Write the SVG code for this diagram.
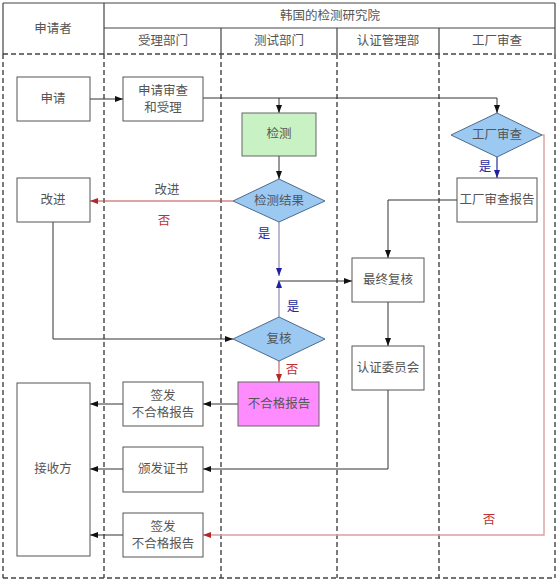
<svg xmlns="http://www.w3.org/2000/svg" width="560" height="583" viewBox="0 0 560 583">
<style>
text{font-family:"Liberation Serif","Noto Sans CJK SC",serif;font-size:12.5px;fill:#555;text-anchor:middle;dominant-baseline:central}
.box{fill:#fff;stroke:#555;stroke-width:1}
.dia{fill:#9cc9f2;stroke:#4d6b8c;stroke-width:1}
.hdr{stroke:#444;stroke-width:1.2;fill:none}
.dash{stroke:#444;stroke-width:1.4;stroke-dasharray:5 3;fill:none}
.ln{stroke:#333;stroke-width:1;fill:none}
.blue{stroke:#8a8ab8;stroke-width:1.2;fill:none}
.red{stroke:#c04848;stroke-width:1;fill:none}
.lred{stroke:#d9a0a0;stroke-width:1.4;fill:none}
.yes{fill:#2a2aa0}
.no{fill:#c03030}
</style>
<defs>
<marker id="ab" viewBox="0 0 8 6" refX="8" refY="3" markerWidth="8" markerHeight="6" orient="auto" markerUnits="userSpaceOnUse"><path d="M0,0 L8,3 L0,6 z" fill="#111"/></marker>
<marker id="abl" viewBox="0 0 8 6" refX="8" refY="3" markerWidth="8" markerHeight="6" orient="auto" markerUnits="userSpaceOnUse"><path d="M0,0 L8,3 L0,6 z" fill="#2020a0"/></marker>
<marker id="ar" viewBox="0 0 8 6" refX="8" refY="3" markerWidth="8" markerHeight="6" orient="auto" markerUnits="userSpaceOnUse"><path d="M0,0 L8,3 L0,6 z" fill="#b02828"/></marker>
</defs>
<rect width="560" height="583" fill="#fff"/>
<g id="lanes">
<line class="hdr" x1="3" y1="3" x2="555" y2="3"/>
<line class="hdr" x1="104" y1="28" x2="555" y2="28"/>
<line class="hdr" x1="104" y1="3" x2="104" y2="54"/>
<line class="hdr" x1="221" y1="28" x2="221" y2="54"/>
<line class="hdr" x1="337" y1="28" x2="337" y2="54"/>
<line class="hdr" x1="439" y1="28" x2="439" y2="54"/>
<line class="hdr" x1="3" y1="3" x2="3" y2="54"/>
<line class="hdr" x1="555" y1="3" x2="555" y2="54"/>
<line class="dash" x1="3" y1="54" x2="555" y2="54"/>
<line class="dash" x1="3" y1="54" x2="3" y2="578"/>
<line class="dash" x1="555" y1="54" x2="555" y2="578"/>
<line class="dash" x1="3" y1="578" x2="555" y2="578"/>
<line class="dash" x1="104" y1="54" x2="104" y2="578"/>
<line class="dash" x1="221" y1="54" x2="221" y2="578"/>
<line class="dash" x1="337" y1="54" x2="337" y2="578"/>
<line class="dash" x1="439" y1="54" x2="439" y2="578"/>
<text x="53" y="29">申请者</text>
<text x="330" y="16">韩国的检测研究院</text>
<text x="163" y="41">受理部门</text>
<text x="279" y="41">测试部门</text>
<text x="388" y="41">认证管理部</text>
<text x="497" y="41">工厂审查</text>
</g>
<g id="connectors">
<line class="ln" x1="90" y1="99" x2="123" y2="99" marker-end="url(#ab)"/>
<polyline class="ln" points="203,98 497,98 497,113" marker-end="url(#ab)"/>
<line class="ln" x1="279" y1="98" x2="279" y2="113" marker-end="url(#ab)"/>
<line class="ln" x1="279" y1="156" x2="279" y2="179" marker-end="url(#ab)"/>
<line class="red" x1="233" y1="201" x2="90" y2="201" marker-end="url(#ar)"/>
<line class="blue" x1="279" y1="222" x2="279" y2="276" marker-end="url(#abl)"/>
<line class="blue" x1="279" y1="317" x2="279" y2="280" marker-end="url(#abl)"/>
<line class="ln" x1="280" y1="281" x2="352" y2="281" marker-end="url(#ab)"/>
<line x1="497" y1="157" x2="497" y2="178" style="stroke:#2a2aa0;stroke-width:1.2" marker-end="url(#abl)"/>
<polyline class="ln" points="457,200 388,200 388,258" marker-end="url(#ab)"/>
<line class="ln" x1="388" y1="302" x2="388" y2="346" marker-end="url(#ab)"/>
<polyline class="ln" points="53,222 53,339 233,339" marker-end="url(#ab)"/>
<line class="red" x1="279" y1="361" x2="279" y2="382" marker-end="url(#ar)"/>
<line class="ln" x1="238" y1="404" x2="203" y2="404" marker-end="url(#ab)"/>
<line class="ln" x1="123" y1="404" x2="90" y2="404" marker-end="url(#ab)"/>
<polyline class="ln" points="388,390 388,469 203,469" marker-end="url(#ab)"/>
<line class="ln" x1="123" y1="469" x2="90" y2="469" marker-end="url(#ab)"/>
<line class="ln" x1="123" y1="535" x2="90" y2="535" marker-end="url(#ab)"/>
<polyline class="lred" points="542,135 544,135 544,535 203,535" marker-end="url(#ar)"/>
<text x="167" y="190">改进</text>
<text class="no" x="164" y="221">否</text>
<text class="yes" x="264" y="234">是</text>
<text class="yes" x="293" y="307">是</text>
<text class="yes" x="485" y="167">是</text>
<text class="no" x="292" y="370">否</text>
<text class="no" x="489" y="520">否</text>
</g>
<g id="n-apply"><rect class="box" x="17" y="77" width="73" height="44"/><text x="53" y="99">申请</text></g>
<g id="n-review"><rect class="box" x="123" y="77" width="80" height="44"/><text x="163" y="91">申请审查</text><text x="163" y="108">和受理</text></g>
<g id="n-test"><rect x="242" y="113" width="74" height="43" fill="#c8f2c4" stroke="#666"/><text x="279" y="134">检测</text></g>
<g id="n-factory"><polygon class="dia" points="497,113 542,135 497,157 451,135"/><text x="497" y="135">工厂审查</text></g>
<g id="n-result"><polygon class="dia" points="279,179 325,201 279,222 233,201"/><text x="279" y="201">检测结果</text></g>
<g id="n-improve"><rect class="box" x="17" y="178" width="73" height="44"/><text x="53" y="200">改进</text></g>
<g id="n-freport"><rect class="box" x="457" y="178" width="80" height="44"/><text x="497" y="200">工厂审查报告</text></g>
<g id="n-final"><rect class="box" x="352" y="258" width="72" height="44"/><text x="388" y="280">最终复核</text></g>
<g id="n-recheck"><polygon class="dia" points="279,317 325,339 279,361 233,339"/><text x="279" y="339">复核</text></g>
<g id="n-committee"><rect class="box" x="352" y="346" width="72" height="44"/><text x="388" y="368">认证委员会</text></g>
<g id="n-fail"><rect x="238" y="382" width="81" height="44" fill="#ff8cff" stroke="#666"/><text x="279" y="404">不合格报告</text></g>
<g id="n-issue1"><rect class="box" x="123" y="382" width="80" height="44"/><text x="163" y="396">签发</text><text x="163" y="413">不合格报告</text></g>
<g id="n-receiver"><rect class="box" x="17" y="383" width="73" height="173"/><text x="53" y="469">接收方</text></g>
<g id="n-cert"><rect class="box" x="123" y="447" width="80" height="45"/><text x="163" y="469">颁发证书</text></g>
<g id="n-issue2"><rect class="box" x="123" y="513" width="80" height="44"/><text x="163" y="527">签发</text><text x="163" y="544">不合格报告</text></g>
</svg>
